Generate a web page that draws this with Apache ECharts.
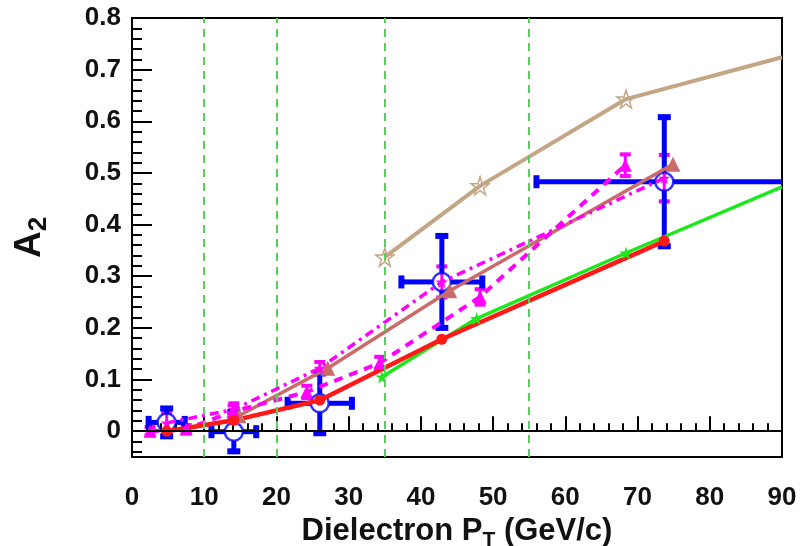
<!DOCTYPE html>
<html>
<head>
<meta charset="utf-8">
<script src="https://cdn.jsdelivr.net/npm/echarts@6/dist/echarts.min.js"></script>
<style>
  html, body { margin: 0; padding: 0; background: #fff; }
  #chart { width: 804px; height: 546px; }
</style>
</head>
<body>
<div id="chart"></div>
<script>
// data points (blue, measured)
const blueX = [4.8, 14.1, 26.0, 42.9, 73.7];
const blueY = [0.017, -0.001, 0.054, 0.289, 0.483];
const blueXErr = [2.5, 3.1, 4.45, 5.6, 17.7];
const blueYErr = [0.027, 0.038, 0.058, 0.089, 0.125];

// red curve
const redX = [4.8, 14.1, 26.0, 42.9, 73.7];
const redY = [0.0, 0.021, 0.06, 0.178, 0.368];

// green curve
const greenX = [34.6, 47.7, 68.4, 90];
const greenY = [0.105, 0.218, 0.345, 0.473];

// tan curve (open stars)
const tanX = [35.0, 48.2, 68.4, 90];
const tanY = [0.337, 0.475, 0.643, 0.724];

// rosy curve (triangles)
const rosyX = [14.8, 27.1, 44.0, 74.9];
const rosyY = [0.03, 0.122, 0.272, 0.517];

// magenta dashed (triangles)
const magX = [2.5, 7.5, 14.0, 24.2, 34.3, 48.2, 68.3];
const magY = [0.0, 0.004, 0.038, 0.076, 0.132, 0.26, 0.515];
const magErr = [0.008, 0.008, 0.012, 0.012, 0.012, 0.015, 0.021];

// magenta dash-dot
const mdX = [4.8, 14.1, 26.0, 42.9, 73.7];
const mdY = [0.016, 0.042, 0.122, 0.289, 0.49];
const mdErr = [0.02, 0.012, 0.012, 0.03, 0.045];

// axis ticks
const yTicks = [0, 0.1, 0.2, 0.3, 0.4, 0.5, 0.6, 0.7, 0.8];
const yMinor = [-0.04, -0.02, 0.02, 0.04, 0.06, 0.08, 0.12, 0.14, 0.16, 0.18,
  0.22, 0.24, 0.26, 0.28, 0.32, 0.34, 0.36, 0.38, 0.42, 0.44, 0.46, 0.48,
  0.52, 0.54, 0.56, 0.58, 0.62, 0.64, 0.66, 0.68, 0.72, 0.74, 0.76, 0.78];
const xLines = [10, 20, 35, 55];

const FONT = "'Liberation Sans', Arial, sans-serif";
const STAR = "path://M50,0 L61,35 L98,35 L68,57 L79,91 L50,70 L21,91 L32,57 L2,35 L39,35 Z";

function pts(xs, ys, bareLast) {
  return xs.map(function (x, i) {
    if (bareLast && i === xs.length - 1) return { value: [x, ys[i]], symbol: "none" };
    return [x, ys[i]];
  });
}

function errSeries(xs, ys, xe, ye, color, w, cap, capT, gap) {
  return {
    type: "custom",
    clip: true,
    silent: true,
    data: xs.map(function (x, i) {
      return [x, ys[i], x - xe[i], x + xe[i], ys[i] - ye[i], ys[i] + ye[i]];
    }),
    renderItem: function (params, api) {
      const c = api.coord([api.value(0), api.value(1)]);
      const l = api.coord([api.value(2), api.value(1)]);
      const r = api.coord([api.value(3), api.value(1)]);
      const b = api.coord([api.value(0), api.value(4)]);
      const t = api.coord([api.value(0), api.value(5)]);
      const st = { stroke: color, lineWidth: w };
      const kids = [];
      if (r[0] - l[0] > 2 * gap) {
        kids.push({ type: "line", shape: { x1: l[0], y1: c[1], x2: c[0] - gap, y2: c[1] }, style: st });
        kids.push({ type: "line", shape: { x1: c[0] + gap, y1: c[1], x2: r[0], y2: c[1] }, style: st });
        kids.push({ type: "rect", shape: { x: l[0] - capT / 2, y: c[1] - cap / 2, width: capT, height: cap }, style: { fill: color } });
        kids.push({ type: "rect", shape: { x: r[0] - capT / 2, y: c[1] - cap / 2, width: capT, height: cap }, style: { fill: color } });
      }
      if (b[1] - t[1] > 2 * gap) {
        kids.push({ type: "line", shape: { x1: c[0], y1: t[1], x2: c[0], y2: c[1] - gap }, style: st });
        kids.push({ type: "line", shape: { x1: c[0], y1: c[1] + gap, x2: c[0], y2: b[1] }, style: st });
      }
      kids.push({ type: "rect", shape: { x: c[0] - cap / 2, y: t[1] - capT / 2, width: cap, height: capT }, style: { fill: color } });
      kids.push({ type: "rect", shape: { x: c[0] - cap / 2, y: b[1] - capT / 2, width: cap, height: capT }, style: { fill: color } });
      return { type: "group", children: kids };
    },
  };
}

const chart = echarts.init(document.getElementById("chart"));

const option = {
  animation: false,
  backgroundColor: "#fff",
  textStyle: { fontFamily: FONT },
  grid: {
    left: 132, right: 22, top: 18, bottom: 89,
    outerBoundsMode: "none",
    show: true, borderColor: "#000", borderWidth: 2, backgroundColor: "transparent",
  },
  xAxis: {
    type: "value",
    min: 0, max: 90, interval: 10,
    axisLine: { lineStyle: { color: "#000", width: 2 } },
    axisTick: { inside: true, length: 15, lineStyle: { color: "#000", width: 2 } },
    minorTick: { show: true, splitNumber: 5, length: 8, lineStyle: { color: "#000", width: 2 } },
    splitLine: { show: false },
    axisLabel: { fontSize: 26, fontWeight: "bold", color: "#111", margin: 28, fontFamily: FONT },
    name: "{m|Dielectron P}{s|T}{m| (GeV/c)}",
    nameLocation: "middle",
    nameGap: 44,
    nameTextStyle: {
      rich: {
        m: { fontSize: 31, fontWeight: "bold", color: "#111", fontFamily: FONT, lineHeight: 38 },
        s: { fontSize: 21, fontWeight: "bold", color: "#111", fontFamily: FONT, lineHeight: 9, verticalAlign: "bottom" },
      },
    },
  },
  yAxis: [
    {
      type: "value",
      min: -0.05, max: 0.8,
      axisLine: { lineStyle: { color: "#000", width: 2 } },
      axisTick: { inside: true, length: 20, customValues: yTicks, lineStyle: { color: "#000", width: 2 } },
      splitLine: { show: false },
      axisLabel: { customValues: yTicks, fontSize: 26, fontWeight: "bold", color: "#111", margin: 11, fontFamily: FONT },
      name: "{a|A}{s|2}",
      nameLocation: "middle",
      nameRotate: 90,
      nameGap: 80,
      nameTextStyle: {
        rich: {
          a: { fontSize: 37, fontWeight: "bold", color: "#111", fontFamily: FONT, lineHeight: 44 },
          s: { fontSize: 26, fontWeight: "bold", color: "#111", fontFamily: FONT, lineHeight: 13, verticalAlign: "bottom" },
        },
      },
    },
    {
      type: "value",
      min: -0.05, max: 0.8,
      position: "left",
      axisLine: { show: false },
      axisTick: { inside: true, length: 10, customValues: yMinor, lineStyle: { color: "#000", width: 2 } },
      axisLabel: { show: false },
      splitLine: { show: false },
    },
  ],
  series: [
    {
      type: "line",
      data: pts(tanX, tanY, true),
      symbol: STAR,
      symbolSize: 18,
      lineStyle: { color: "#c4a584", width: 4 },
      itemStyle: { color: "rgba(255,255,255,0)", borderColor: "#c4a584", borderWidth: 1.5 },
      markLine: {
        silent: true,
        symbol: ["none", "none"],
        label: { show: false },
        data: xLines.map(function (x) {
          return { xAxis: x, lineStyle: { color: "#5ccc5c", width: 2, type: [8, 6] } };
        }).concat([{ yAxis: 0, lineStyle: { color: "#000", width: 2, type: "solid" } }]),
      },
    },
    {
      type: "line",
      data: pts(rosyX, rosyY),
      symbol: "triangle",
      symbolSize: 15,
      lineStyle: { color: "#c96b6b", width: 3.5 },
      itemStyle: { color: "#c96b6b" },
    },
    errSeries(mdX, mdY, mdX.map(function () { return 0; }), mdErr, "#ff00ff", 3, 11, 4, 0),
    {
      type: "line",
      data: pts(mdX, mdY),
      symbol: STAR,
      symbolSize: 12,
      lineStyle: { color: "#ff00ff", width: 3.5, type: [9, 5, 3, 5] },
      itemStyle: { color: "#ff00ff" },
    },
    errSeries(magX, magY, magX.map(function () { return 0; }), magErr, "#ff00ff", 3, 11, 4, 0),
    {
      type: "line",
      data: pts(magX, magY),
      symbol: "triangle",
      symbolSize: 13,
      lineStyle: { color: "#ff00ff", width: 4, type: [9, 7] },
      itemStyle: { color: "#ff00ff" },
    },
    {
      type: "line",
      data: pts(greenX, greenY, true),
      symbol: STAR,
      symbolSize: 13,
      lineStyle: { color: "#1de81d", width: 3.5 },
      itemStyle: { color: "#1de81d" },
    },
    {
      type: "line",
      data: pts(redX, redY),
      symbol: "circle",
      symbolSize: 11,
      lineStyle: { color: "#ff1a1a", width: 4.5 },
      itemStyle: { color: "#ff1a1a" },
    },
    errSeries(blueX, blueY, blueXErr, blueYErr, "#0000ff", 5, 13, 6, 9),
    {
      type: "scatter",
      data: pts(blueX, blueY),
      symbol: "circle",
      symbolSize: 18,
      itemStyle: { color: "rgba(255,255,255,0)", borderColor: "#0000ff", borderWidth: 2.5 },
    },
  ],
};

chart.setOption(option);
</script>
</body>
</html>
